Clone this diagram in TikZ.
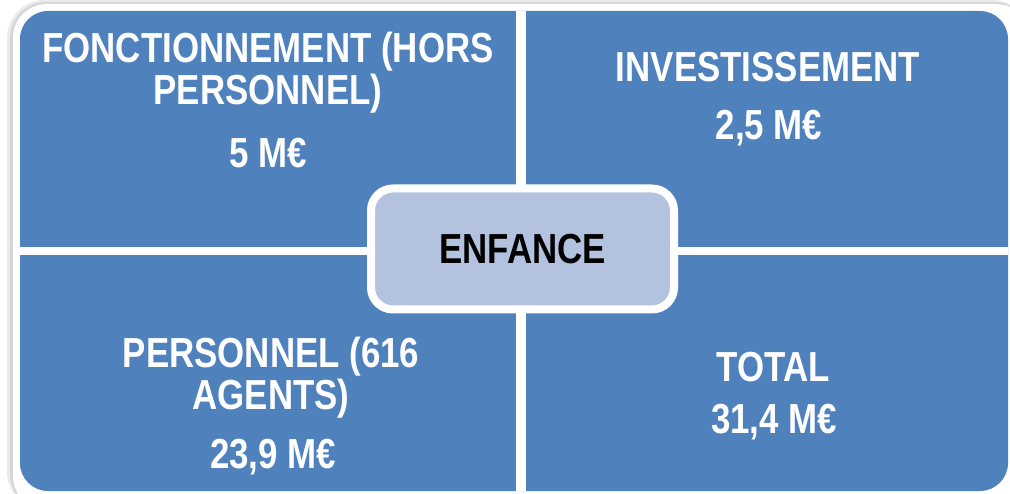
\documentclass[tikz,border=0pt]{standalone}
\usepackage{fontspec}
\setmainfont{Liberation Sans}[FakeStretch=0.83]
\usetikzlibrary{positioning, shadows}
\definecolor{quadblue}{RGB}{79,129,189}
\definecolor{hubblue}{RGB}{179,195,223}

\begin{document}
\begin{tikzpicture}[x=1pt, y=-1pt,
  font=\bfseries\fontsize{42}{42}\selectfont,
  every node/.style={align=center, inner sep=0pt},
  quadtext/.style={text=white},
  hubbox/.style={draw=white, line width=8pt, fill=hubblue, rounded corners=22pt,
    minimum width=303pt, minimum height=121pt, text=black,
    drop shadow={shadow xshift=2pt, shadow yshift=-2pt, opacity=0.35}}]

\useasboundingbox (0,0) rectangle (1010,494);

% outer frame with soft shadow
\fill[black!8, rounded corners=38pt] (7,0) rectangle (1030,510);
\fill[black!16, rounded corners=36pt] (10,2) rectangle (1030,510);
\fill[white, rounded corners=34pt] (13,4) rectangle (1030,510);

% four blocks, split by white gaps
\fill[quadblue, rounded corners=28pt] (20,11) rectangle (1008,491);
\fill[white] (516,11) rectangle (526,491);
\fill[white] (20,247) rectangle (1008,255);

%Top left
\node[quadtext, anchor=north] (fonct) at (268,32) {FONCTIONNEMENT (HORS\\PERSONNEL)};
\node[quadtext, anchor=base] (fonctval) at (268,168) {5 M€};

%Top right
\node[quadtext, anchor=north] (invest) at (768,52) {INVESTISSEMENT};
\node[quadtext, anchor=base] (investval) at (769,140) {2,5 M€};

%Bottom left
\node[quadtext, anchor=north] (perso) at (271,337) {PERSONNEL (616\\AGENTS)};
\node[quadtext, anchor=base] (persoval) at (273,468) {23,9 M€};

%Bottom right
\node[quadtext, anchor=north] (total) at (773,352) {TOTAL};
\node[quadtext, anchor=base] (totalval) at (774,434) {31,4 M€};

% centre box
\node[hubbox] (hub) at (522.5,249) {ENFANCE};

\end{tikzpicture}
\end{document}
